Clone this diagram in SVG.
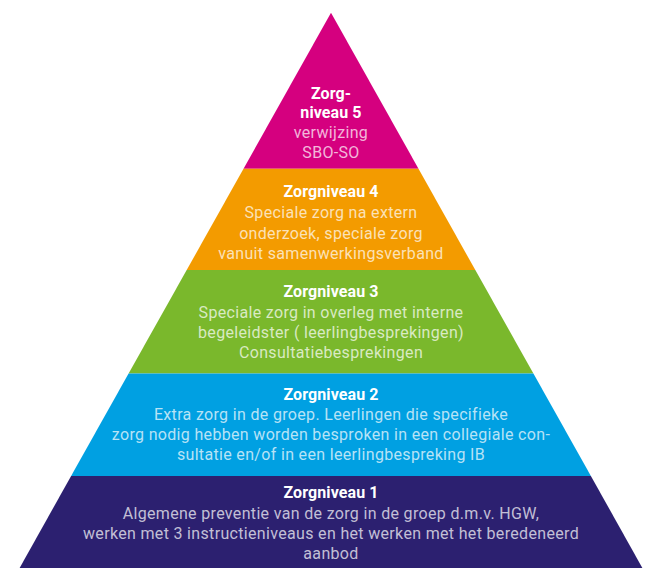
<svg xmlns="http://www.w3.org/2000/svg" width="656" height="568" viewBox="0 0 656 568">
<style>
text{font-family:Roboto,"Liberation Sans",sans-serif;font-size:16px;text-anchor:middle;fill:#ffffff}
.t{font-weight:bold;letter-spacing:0.1px}
.b{fill-opacity:0.72;letter-spacing:0.33px}
</style>
<rect width="656" height="568" fill="#ffffff"/>
<g id="level5">
<polygon points="331,12.7 243.5,168.7 418.5,168.7" fill="#d5007f"/>
<text class="t" x="331" y="98.7">Zorg-</text>
<text class="t" x="331" y="118">niveau 5</text>
<text class="b" x="331" y="138">verwijzing</text>
<text class="b" x="331" y="158.3">SBO-SO</text>
</g>
<g id="level4">
<polygon points="243.5,168.7 418.5,168.7 475.3,270 186.7,270" fill="#f39b00"/>
<text class="t" x="331" y="197.3">Zorgniveau 4</text>
<text class="b" x="331" y="218">Speciale zorg na extern</text>
<text class="b" x="331" y="238.5">onderzoek, speciale zorg</text>
<text class="b" x="331" y="258.5">vanuit samenwerkingsverband</text>
</g>
<g id="level3">
<polygon points="186.7,270 475.3,270 533.4,373.5 128.6,373.5" fill="#7ab82c"/>
<text class="t" x="331" y="297.3">Zorgniveau 3</text>
<text class="b" x="331" y="318">Speciale zorg in overleg met interne</text>
<text class="b" x="331" y="338.3">begeleidster ( leerlingbesprekingen)</text>
<text class="b" x="331" y="358.3">Consultatiebesprekingen</text>
</g>
<g id="level2">
<polygon points="128.6,373.5 533.4,373.5 590.9,476 71.1,476" fill="#00a0e2"/>
<text class="t" x="331" y="399.5">Zorgniveau 2</text>
<text class="b" x="331" y="419.5">Extra zorg in de groep. Leerlingen die specifieke</text>
<text class="b" x="331" y="440">zorg nodig hebben worden besproken in een collegiale con-</text>
<text class="b" x="331" y="460">sultatie en/of in een leerlingbespreking IB</text>
</g>
<g id="level1">
<polygon points="71.1,476 590.9,476 643.5,570 18.5,570" fill="#2c2070"/>
<text class="t" x="331" y="498">Zorgniveau 1</text>
<text class="b" x="331" y="518.5">Algemene preventie van de zorg in de groep d.m.v. HGW,</text>
<text class="b" x="331" y="539">werken met 3 instructieniveaus en het werken met het beredeneerd</text>
<text class="b" x="331" y="559">aanbod</text>
</g>
<g id="connectors"/>
</svg>
